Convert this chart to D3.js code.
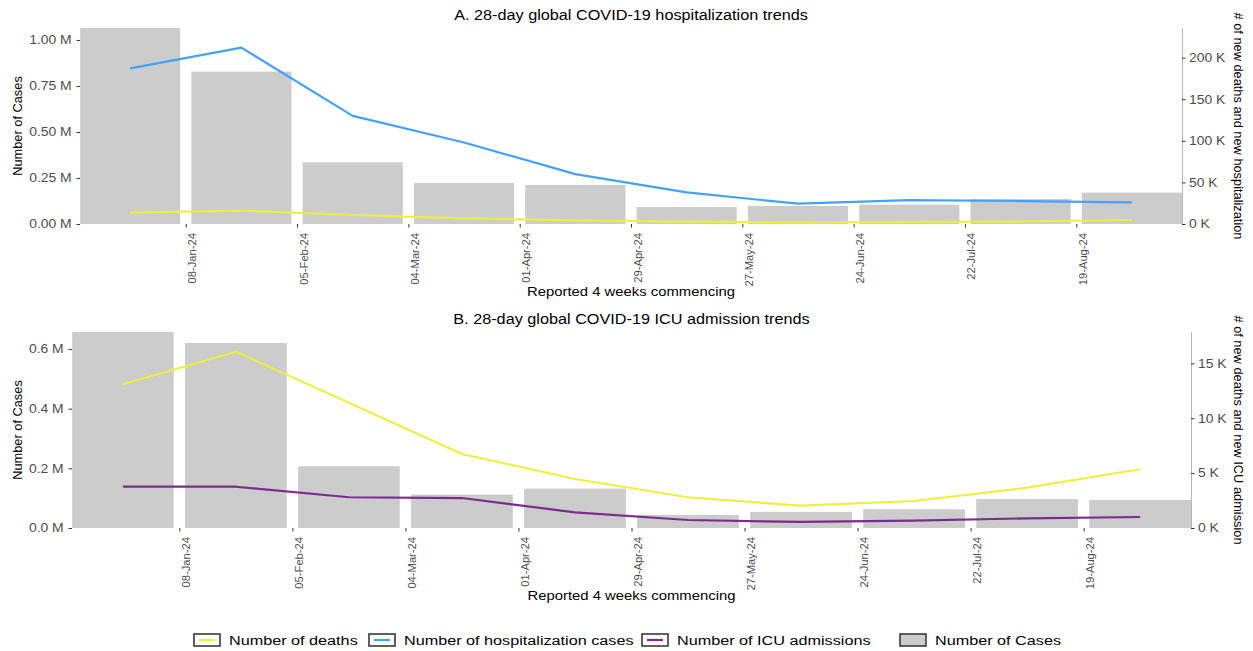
<!DOCTYPE html>
<html>
<head>
<meta charset="utf-8">
<script src="https://cdn.jsdelivr.net/npm/d3@7"></script>
<style>
    body { margin: 0; background: #fff; }
    svg { font-family: "Liberation Sans", Arial, sans-serif; display: block; }
</style>
</head>
<body>
<svg id="chart" width="1253" height="651"></svg>
<script>
"use strict";

const parseDate = d3.timeParse("%Y-%m-%d");
const formatTick = d3.timeFormat("%d-%b-%y");

// 4-week reporting periods (bar centres) and axis breaks
const periodStarts = ["2023-12-25", "2024-01-22", "2024-02-19", "2024-03-18", "2024-04-15",
    "2024-05-13", "2024-06-10", "2024-07-08", "2024-08-05", "2024-09-02"];
const tickDates = ["2024-01-08", "2024-02-05", "2024-03-04", "2024-04-01", "2024-04-29",
    "2024-05-27", "2024-06-24", "2024-07-22", "2024-08-19"];

// A. hospitalization panel
const hospCases = [1065000, 828000, 335000, 223000, 212000, 92000, 98000, 105000, 136000, 170000];
const hospDeaths = [13600, 16000, 10800, 6800, 4400, 2800, 2000, 2400, 3200, 4800];
const hospAdmissions = [187000, 212000, 130000, 98000, 60000, 38000, 24400, 28800, 27600, 26000];

// B. ICU panel
const icuCases = [657000, 620000, 207000, 112000, 132000, 44000, 54000, 63000, 97000, 94000];
const icuDeaths = [13100, 16060, 11400, 6740, 4460, 2800, 2030, 2460, 3670, 5350];
const icuAdmissions = [3760, 3760, 2800, 2730, 1430, 730, 550, 670, 880, 1000];

// axis breaks
const leftTicksA = [0, 250000, 500000, 750000, 1000000];
const rightTicksA = [0, 50000, 100000, 150000, 200000];
const leftTicksB = [0, 200000, 400000, 600000];
const rightTicksB = [0, 5000, 10000, 15000];

const legendLabels = ["Number of deaths", "Number of hospitalization cases", "Number of ICU admissions", "Number of Cases"];

// colours
const colDeaths = "#eeee45",
    colHosp = "#44a2f8",
    colIcu = "#7e2b8f",
    colBar = "#cccccc",
    colTickText = "#4d4d4d";

const stretch = 1.16; // the original text is drawn a little wide

const svg = d3.select("#chart");
const dates = periodStarts.map(parseDate);
const breaks = tickDates.map(parseDate);
const DAY = 864e5;

function addText(parent, x, y, str, size, anchor, rotate, sx) {
    let tr = "translate(" + x + "," + y + ")";
    if (rotate) tr += " rotate(" + rotate + ")";
    if (sx) tr += " scale(" + sx + ",1)";
    return parent.append("text")
        .attr("transform", tr)
        .attr("text-anchor", anchor || "middle")
        .attr("font-size", size)
        .attr("fill", "#000")
        .text(str);
}

function drawPanel(cfg) {
    const g = svg.append("g");

    // half a bar (0.9 of a 28 day period) on each side
    const pad = 0.45 * 28 * DAY;
    const x = d3.scaleTime()
        .domain([new Date(+dates[0] - pad), new Date(+dates[dates.length - 1] + pad)])
        .range([cfg.left, cfg.right]);

    const leftMax = d3.max(cfg.cases);
    const yL = d3.scaleLinear().domain([0, leftMax]).range([cfg.bottom, cfg.top]);
    const yR = d3.scaleLinear().domain([0, leftMax / cfg.ratio]).range([cfg.bottom, cfg.top]);

    const barW = x(new Date(+dates[0] + 0.9 * 28 * DAY)) - x(dates[0]);

    // bars
    g.append("g")
        .selectAll("rect")
        .data(cfg.cases)
        .enter()
        .append("rect")
        .attr("x", (d, i) => x(dates[i]) - barW / 2)
        .attr("width", barW)
        .attr("y", d => yL(d))
        .attr("height", d => cfg.bottom - yL(d))
        .attr("fill", colBar);

    // lines on the secondary axis
    const line = d3.line()
        .x((d, i) => x(dates[i]))
        .y(d => yR(d));

    cfg.lines.forEach(function (s) {
        g.append("path")
            .datum(s.values)
            .attr("d", line)
            .attr("fill", "none")
            .attr("stroke", s.color)
            .attr("stroke-width", 2.2)
            .attr("stroke-linejoin", "round");
    });

    // x axis
    const gx = g.append("g")
        .attr("transform", "translate(0," + cfg.bottom + ")")
        .call(d3.axisBottom(x).tickValues(breaks).tickFormat(formatTick).tickSize(3.5).tickSizeOuter(0))
        .attr("font-family", null)
        .attr("font-size", null);
    gx.select(".domain").remove();
    gx.selectAll(".tick line").attr("stroke", "#333");
    gx.selectAll(".tick text")
        .attr("x", 0)
        .attr("y", 0)
        .attr("dy", "0")
        .attr("text-anchor", "end")
        .attr("font-size", 11.2)
        .attr("fill", colTickText)
        .attr("transform", "translate(10,9) rotate(-90)");

    // left axis
    const gl = g.append("g")
        .attr("transform", "translate(" + cfg.left + ",0)")
        .call(d3.axisLeft(yL).tickValues(cfg.leftTicks).tickFormat(cfg.leftFormat).tickSize(3.5).tickSizeOuter(0))
        .attr("font-family", null)
        .attr("font-size", null);
    gl.select(".domain").attr("stroke", "#d4d4d4");
    gl.selectAll(".tick line").attr("stroke", "#333");
    gl.selectAll(".tick text")
        .attr("x", -8.3 / stretch)
        .attr("font-size", 12)
        .attr("fill", colTickText)
        .attr("transform", "scale(" + stretch + ",1)");

    // right axis
    const gr = g.append("g")
        .attr("transform", "translate(" + cfg.right + ",0)")
        .call(d3.axisRight(yR).tickValues(cfg.rightTicks).tickFormat(d => d / 1000 + " K").tickSize(3.5).tickSizeOuter(0))
        .attr("font-family", null)
        .attr("font-size", null);
    gr.select(".domain").attr("stroke", "#b5b5b5");
    gr.selectAll(".tick line").attr("stroke", "#333");
    gr.selectAll(".tick text")
        .attr("x", 7 / stretch)
        .attr("font-size", 12)
        .attr("fill", colTickText)
        .attr("transform", "scale(" + stretch + ",1)");

    // titles
    const mid = (cfg.left + cfg.right) / 2;
    addText(g, mid, cfg.top - 8, cfg.title, 14, "middle", 0, stretch);
    addText(g, mid, cfg.bottom + 72, "Reported 4 weeks commencing", 12.8, "middle", 0, stretch);
    addText(g, 22, (cfg.top + cfg.bottom) / 2, "Number of Cases", 12.8, "middle", -90);
    addText(g, 1234, (cfg.top + cfg.bottom) / 2, cfg.rightTitle, 12.8, "middle", 90);
}

drawPanel({
    title: "A. 28-day global COVID-19 hospitalization trends",
    rightTitle: "# of new deaths and new hospitalization",
    left: 80, right: 1182, top: 28, bottom: 224,
    ratio: 4.52,
    cases: hospCases,
    leftTicks: leftTicksA,
    leftFormat: d => (d / 1e6).toFixed(2) + " M",
    rightTicks: rightTicksA,
    lines: [
        { values: hospDeaths, color: colDeaths },
        { values: hospAdmissions, color: colHosp }
    ]
});

drawPanel({
    title: "B. 28-day global COVID-19 ICU admission trends",
    rightTitle: "# of new deaths and new ICU admission",
    left: 72, right: 1191, top: 332, bottom: 528,
    ratio: 36.8,
    cases: icuCases,
    leftTicks: leftTicksB,
    leftFormat: d => (d / 1e6).toFixed(1) + " M",
    rightTicks: rightTicksB,
    lines: [
        { values: icuDeaths, color: colDeaths },
        { values: icuAdmissions, color: colIcu }
    ]
});

////////// legend //////////
const legendX = [193, 368, 641, 899];
const legendKind = [colDeaths, colHosp, colIcu, null];

const legend = svg.append("g").attr("class", "legend");
legendLabels.forEach(function (lab, i) {
    const kx = legendX[i];
    legend.append("rect")
        .attr("x", kx + 1)
        .attr("y", 634)
        .attr("width", 26)
        .attr("height", 12)
        .attr("fill", legendKind[i] ? "#ffffff" : colBar)
        .attr("stroke", "#3a3a3a")
        .attr("stroke-width", 1.6);
    if (legendKind[i]) {
        legend.append("line")
            .attr("x1", kx + 6)
            .attr("x2", kx + 22)
            .attr("y1", 640)
            .attr("y2", 640)
            .attr("stroke", legendKind[i])
            .attr("stroke-width", 2.2);
    }
    addText(legend, kx + 36, 645, lab, 13.5, "start", 0, 1.2);
});
</script>
</body>
</html>
